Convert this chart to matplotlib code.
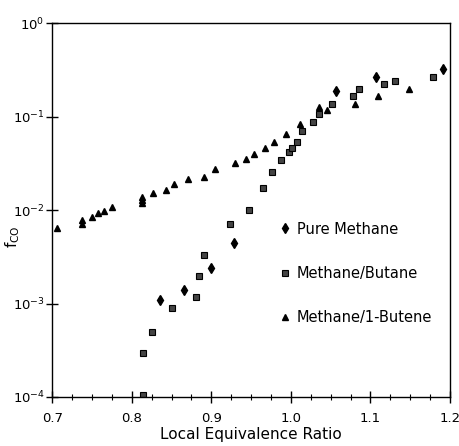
import matplotlib
matplotlib.use("Agg")
import matplotlib.pyplot as plt
from matplotlib.ticker import MultipleLocator, FixedLocator

# Pure Methane
methane_phi = [0.835, 0.865, 0.900, 0.928, 1.057, 1.107, 1.191]
methane_fco = [1.09e-3, 1.39e-3, 2.41e-3, 4.40e-3, 0.189, 0.265, 0.322]

# Methane/Butane
butane_phi = [0.814, 0.814, 0.825, 0.851, 0.881, 0.884, 0.891, 0.924, 0.947,
              0.965, 0.976, 0.988, 0.998, 1.002, 1.008, 1.014, 1.028, 1.035,
              1.052, 1.078, 1.085, 1.117, 1.131, 1.179]
butane_fco = [1.05e-4, 2.93e-4, 4.99e-4, 8.89e-4, 1.18e-3, 1.97e-3, 3.30e-3,
              7.18e-3, 0.0101, 0.0173, 0.0253, 0.0343, 0.0414, 0.0460, 0.0538,
              0.0695, 0.0884, 0.1063, 0.1377, 0.1657, 0.1993, 0.2215, 0.2415,
              0.268]

# Methane/1-Butene
butene_phi = [0.706, 0.737, 0.737, 0.750, 0.757, 0.765, 0.775, 0.813, 0.813,
              0.813, 0.827, 0.843, 0.853, 0.871, 0.891, 0.905, 0.930, 0.943,
              0.954, 0.968, 0.979, 0.994, 1.011, 1.035, 1.045, 1.080, 1.110,
              1.149]
butene_fco = [0.00641, 0.00782, 0.00708, 0.00842, 0.00929, 0.00976, 0.01077,
              0.01377, 0.01279, 0.01189, 0.0152, 0.01637, 0.01897, 0.02147,
              0.02254, 0.02746, 0.0316, 0.0351, 0.0394, 0.0457, 0.0538, 0.0650,
              0.0832, 0.127, 0.1174, 0.1377, 0.1657, 0.1954]

x_ticks = [0.7, 0.8, 0.9, 1.0, 1.1, 1.2]
x_labels = ["0.7", "0.8", "0.9", "1.0", "1.1", "1.2"]
y_ticks = [1e-4, 1e-3, 1e-2, 1e-1, 1]

fig = plt.figure(figsize=(4.6, 4.46), dpi=100)
ax = fig.add_axes([0.1137, 0.110, 0.8645, 0.838])

ax.plot(methane_phi, methane_fco, linestyle="none", marker="d", ms=5,
        color="black", label="Pure Methane")
ax.plot(butane_phi, butane_fco, linestyle="none", marker="s", ms=4.5,
        mfc="#444444", mec="black", mew=0.8, label="Methane/Butane")
ax.plot(butene_phi, butene_fco, linestyle="none", marker="^", ms=5,
        color="black", label="Methane/1-Butene")

ax.set_yscale("log")
ax.set_xlim(0.7, 1.2)
ax.set_ylim(1e-4, 1)
ax.xaxis.set_major_locator(FixedLocator(x_ticks))
ax.set_xticklabels(x_labels)
ax.xaxis.set_minor_locator(MultipleLocator(0.025))
ax.yaxis.set_major_locator(FixedLocator(y_ticks))
ax.yaxis.set_minor_locator(FixedLocator([]))
ax.tick_params(which="major", direction="inout", length=9, width=1.0,
               labelsize=9.5)
ax.tick_params(which="minor", direction="inout", length=5, width=0.8)
ax.tick_params(axis="x", pad=6)
ax.tick_params(axis="y", pad=1)

for s in ax.spines.values():
    s.set_linewidth(1.0)

ax.set_xlabel("Local Equivalence Ratio", fontsize=11, labelpad=2)
ax.set_ylabel(r"f$_{\mathrm{CO}}$", fontsize=11)
ax.yaxis.set_label_coords(-0.075, 0.43)

ax.legend(loc="upper left", bbox_to_anchor=(0.553, 0.485), frameon=False,
          fontsize=10.5, labelspacing=2.0, handletextpad=0.3,
          handlelength=1.0, borderaxespad=0)

fig.savefig("out.png", dpi=100)
